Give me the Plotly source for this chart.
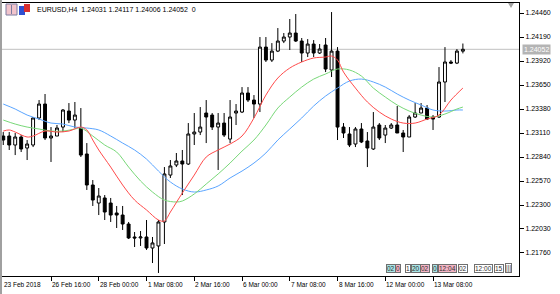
import plotly.graph_objects as go

# ---------------- data ----------------
bars = list(range(78))
opens = [1.23076, 1.23076, 1.22975, 1.23065, 1.22941, 1.22975, 1.23279, 1.23436, 1.23054, 1.23076,
         1.23177, 1.23357, 1.23256, 1.23166, 1.22874, 1.22525, 1.22322, 1.22379, 1.22322, 1.22210,
         1.22187, 1.22086, 1.21940, 1.21929, 1.21940, 1.21816, 1.21839, 1.22109, 1.22637, 1.22750,
         1.22795, 1.22761, 1.23099, 1.23121, 1.23335, 1.23312, 1.23177, 1.23222, 1.23042, 1.23335,
         1.23346, 1.23560, 1.23481, 1.23436, 1.24077, 1.23931, 1.24032, 1.24145, 1.24190, 1.24235,
         1.24145, 1.24010, 1.24111, 1.24010, 1.24100, 1.23819, 1.24032, 1.23177, 1.23099, 1.22986,
         1.23155, 1.23020, 1.22930, 1.23200, 1.23087, 1.23166, 1.23200, 1.23110, 1.23065, 1.23290,
         1.23335, 1.23391, 1.23290, 1.23290, 1.23684, 1.23909, 1.23897, 1.24031]
highs = [1.23121, 1.23121, 1.23110, 1.23087, 1.23031, 1.23290, 1.23481, 1.23549, 1.23177, 1.23200,
         1.23380, 1.23447, 1.23459, 1.23391, 1.22997, 1.22581, 1.22491, 1.22412, 1.22379, 1.22289,
         1.22289, 1.22109, 1.21996, 1.22007, 1.22131, 1.21940, 1.22131, 1.22727, 1.22806, 1.22885,
         1.22919, 1.23222, 1.23335, 1.23402, 1.23481, 1.23335, 1.23335, 1.23335, 1.23481, 1.23436,
         1.23627, 1.23627, 1.23537, 1.24190, 1.24190, 1.24122, 1.24291, 1.24235, 1.24393, 1.24449,
         1.24179, 1.24167, 1.24156, 1.24111, 1.24179, 1.24471, 1.24077, 1.23222, 1.23177, 1.23177,
         1.23222, 1.23121, 1.23346, 1.23222, 1.23200, 1.23222, 1.23414, 1.23144, 1.23312, 1.23447,
         1.23447, 1.23425, 1.23312, 1.23852, 1.24077, 1.23931, 1.24055, 1.24117]
lows = [1.22975, 1.22919, 1.22862, 1.22896, 1.22806, 1.22952, 1.23256, 1.23031, 1.22784, 1.23076,
        1.23121, 1.23222, 1.23166, 1.22840, 1.22469, 1.22289, 1.22187, 1.22131, 1.22109, 1.22041,
        1.22019, 1.21917, 1.21827, 1.21839, 1.21794, 1.21647, 1.21535, 1.21861, 1.22604, 1.22727,
        1.22412, 1.22750, 1.22975, 1.23087, 1.22997, 1.23144, 1.22694, 1.23065, 1.22997, 1.23200,
        1.23335, 1.23459, 1.23279, 1.23346, 1.23909, 1.23909, 1.24021, 1.24122, 1.24044, 1.24134,
        1.23909, 1.23965, 1.23965, 1.23999, 1.23796, 1.23740, 1.23031, 1.23054, 1.22952, 1.22952,
        1.22997, 1.22727, 1.22919, 1.23031, 1.22997, 1.23155, 1.23110, 1.22896, 1.23065, 1.23279,
        1.23335, 1.23256, 1.23144, 1.23279, 1.23459, 1.23886, 1.23886, 1.24006]
closes = [1.23031, 1.22975, 1.23065, 1.22930, 1.22986, 1.23279, 1.23436, 1.23054, 1.23076, 1.23166,
          1.23369, 1.23256, 1.23312, 1.22862, 1.22525, 1.22356, 1.22401, 1.22221, 1.22187, 1.22187,
          1.22086, 1.21929, 1.21929, 1.21940, 1.21816, 1.21873, 1.22109, 1.22649, 1.22739, 1.22795,
          1.22761, 1.23099, 1.23121, 1.23177, 1.23290, 1.23177, 1.23222, 1.23087, 1.23290, 1.23357,
          1.23560, 1.23481, 1.23436, 1.24077, 1.23931, 1.24032, 1.24145, 1.24190, 1.24235, 1.24145,
          1.24010, 1.24111, 1.24010, 1.24055, 1.23830, 1.24032, 1.23177, 1.23110, 1.22975, 1.23155,
          1.23009, 1.22941, 1.23177, 1.23054, 1.23166, 1.23200, 1.23110, 1.23065, 1.23290, 1.23335,
          1.23391, 1.23267, 1.23267, 1.23684, 1.23909, 1.23897, 1.24032, 1.24052]

# moving averages (bar index, price)
ma_red_x = [0, 1, 2, 4, 5, 7, 9, 11, 13, 14, 15, 16, 18, 20, 22, 24, 26, 27, 28, 30, 32, 34, 36, 38,
            40, 42, 44, 46, 48, 50, 52, 54, 55, 56, 57, 59, 61, 63, 65, 67, 69, 71, 73, 75, 77]
ma_red_y = [1.23132, 1.23144, 1.23121, 1.23065, 1.23076, 1.23132, 1.23121, 1.23132, 1.23177, 1.23144,
            1.23031, 1.22919, 1.22727, 1.22525, 1.22356, 1.22244, 1.22131, 1.22120, 1.22221, 1.22435,
            1.22637, 1.22840, 1.22919, 1.22986, 1.23076, 1.23279, 1.23537, 1.23729, 1.23841, 1.23909,
            1.23954, 1.23965, 1.23976, 1.23931, 1.23796, 1.23616, 1.23459, 1.23346, 1.23267, 1.23222,
            1.23222, 1.23267, 1.23312, 1.23481, 1.23616]
ma_green_x = [0, 2, 4, 6, 8, 10, 12, 13, 15, 17, 19, 21, 23, 25, 27, 29, 30, 32, 34, 36, 38, 40, 42,
              44, 46, 48, 50, 52, 54, 56, 58, 60, 62, 64, 66, 68, 70, 72, 74, 76, 77]
ma_green_y = [1.23256, 1.23211, 1.23177, 1.23155, 1.23132, 1.23132, 1.23155, 1.23166, 1.23076, 1.22975,
              1.22896, 1.22727, 1.22570, 1.22446, 1.22356, 1.22334, 1.22345, 1.22424, 1.22536, 1.22649,
              1.22772, 1.22907, 1.23031, 1.23200, 1.23391, 1.23515, 1.23627, 1.23717, 1.23774, 1.23830,
              1.23819, 1.23751, 1.23616, 1.23515, 1.23425, 1.23357, 1.23312, 1.23290, 1.23324, 1.23380,
              1.23402]
ma_blue_x = [0, 2, 4, 6, 8, 10, 12, 14, 16, 18, 20, 22, 24, 26, 28, 30, 32, 34, 36, 38, 40, 42, 44,
             46, 48, 50, 52, 54, 56, 58, 60, 62, 64, 66, 68, 70, 72, 74, 76, 77]
ma_blue_y = [1.23436, 1.23380, 1.23312, 1.23267, 1.23222, 1.23211, 1.23177, 1.23166, 1.23144, 1.23076,
             1.22997, 1.22919, 1.22817, 1.22682, 1.22559, 1.22480, 1.22446, 1.22469, 1.22514, 1.22604,
             1.22682, 1.22772, 1.22885, 1.23031, 1.23155, 1.23279, 1.23414, 1.23526, 1.23616, 1.23695,
             1.23717, 1.23684, 1.23627, 1.23549, 1.23481, 1.23425, 1.23369, 1.23357, 1.23369, 1.23369]

y_ticks = [1.21760, 1.22030, 1.22300, 1.22570, 1.22840, 1.23110, 1.23380, 1.23650, 1.23920, 1.24190, 1.24460]
x_tick_bars = [0, 8, 16, 24, 32, 40, 48, 56, 64, 72]
x_tick_labels = ["23 Feb 2018", "26 Feb 16:00", "28 Feb 00:00", "1 Mar 08:00", "2 Mar 16:00",
                 "6 Mar 00:00", "7 Mar 08:00", "8 Mar 16:00", "12 Mar 00:00", "13 Mar 08:00"]
symbol = "EURUSD,H4"
last_price = closes[-1]
timer_cells = ["02", "0", "1", "20", "02", "0", "12:04", "02", "12:00", "15", "|||"]
timer_colors = ["#a8e4e4", "#f4b4c4", "white", "#a8e4e4", "#f4b4c4", "#a8e4e4", "#f4b4c4",
                "white", "white", "white", "white"]
timer_left_px = [386, 395, 405, 411, 420, 432, 438, 458, 474, 494, 505]

# ---------------- figure ----------------
FONT = "Liberation Sans, Arial, sans-serif"
L, R, T, B = 2, 41, 3, 18
W, H = 560, 294
PW, PH = W - L - R, H - T - B


def px(xp):
    return (xp - L) / PW


def py(yp):
    return (H - B - yp) / PH


fig = go.Figure()

for xs, ys, col in [(ma_blue_x, ma_blue_y, "#5aa5ff"),
                    (ma_green_x, ma_green_y, "#78d878"),
                    (ma_red_x, ma_red_y, "#ff4a4a")]:
    fig.add_trace(go.Scatter(x=xs, y=ys, mode="lines", line=dict(color=col, width=1, shape="spline"),
                             hoverinfo="skip", showlegend=False))

fig.add_trace(go.Candlestick(
    x=bars, open=opens, high=highs, low=lows, close=closes,
    increasing=dict(fillcolor="white", line=dict(color="black", width=1)),
    decreasing=dict(fillcolor="black", line=dict(color="black", width=1)),
    whiskerwidth=0, showlegend=False))

# current price line
fig.add_shape(type="line", xref="paper", x0=0, x1=1, yref="y", y0=last_price, y1=last_price,
              line=dict(color="#c0c0c0", width=1), layer="below")

# window border on the left
fig.add_shape(type="rect", xref="paper", yref="paper", x0=px(0), x1=px(2), y0=py(H), y1=py(0),
              fillcolor="#a0a0a0", line=dict(width=0))

# chart-shift marker
fig.add_shape(type="path", xref="paper", yref="paper",
              path=f"M {px(508)} {py(3)} L {px(514)} {py(3)} L {px(511)} {py(8)} Z",
              fillcolor="#a0a0a0", line=dict(width=0))

# toolbar icons top-left
fig.add_shape(type="rect", xref="paper", yref="paper", x0=px(6), x1=px(17), y0=py(15), y1=py(4),
              fillcolor="#f2c4cc", line=dict(color="#7c7ca0", width=1))
fig.add_shape(type="line", xref="paper", yref="paper", x0=px(11.5), x1=px(11.5), y0=py(14), y1=py(5),
              line=dict(color="#7c7ca0", width=1))
fig.add_shape(type="rect", xref="paper", yref="paper", x0=px(19), x1=px(25), y0=py(15), y1=py(6),
              fillcolor="#3050d0", line=dict(width=0))
fig.add_shape(type="rect", xref="paper", yref="paper", x0=px(24), x1=px(30), y0=py(12), y1=py(4),
              fillcolor="#d83030", line=dict(width=0))

fig.update_layout(
    width=W, height=H,
    margin=dict(l=L, r=R, t=T, b=B),
    paper_bgcolor="white", plot_bgcolor="white",
    showlegend=False,
    font=dict(family=FONT, size=7, color="black"),
    xaxis=dict(range=[-0.21, 86.4], showgrid=False, zeroline=False, rangeslider=dict(visible=False),
               tickmode="array", tickvals=x_tick_bars[1:], ticktext=[""] * 9, ticks="outside",
               ticklen=4, tickcolor="black", showline=True, linecolor="black", mirror=True, linewidth=1),
    yaxis=dict(side="right", range=[1.21501, 1.24573], showgrid=False, zeroline=False,
               tickmode="array", tickvals=y_ticks, ticktext=[f"{v:.5f}" for v in y_ticks],
               ticks="outside", ticklen=4, tickcolor="black", showline=True, linecolor="black",
               mirror=True, linewidth=1, tickfont=dict(size=7, family=FONT)),
)

# time labels (left aligned at the tick like the original)
for b, lab in zip(x_tick_bars, x_tick_labels):
    fig.add_annotation(x=b, y=0, xref="x", yref="paper", text=lab, showarrow=False,
                       xanchor="left", yanchor="top", yshift=-3, xshift=-1,
                       font=dict(size=6.5, family=FONT, color="black"))

# price label
fig.add_annotation(x=1, y=last_price, xref="paper", yref="y", text=f"{last_price:.5f}",
                   showarrow=False, xanchor="left", yanchor="middle", xshift=3,
                   bgcolor="#b4b4b4", font=dict(size=7, family=FONT, color="white"), borderpad=1)

# header
fig.add_annotation(x=px(35), y=py(9), xref="paper", yref="paper",
                   text=f"{symbol}  {opens[-1]:.5f} {highs[-1]:.5f} {lows[-1]:.5f} {closes[-1]:.5f}  0",
                   showarrow=False, xanchor="left", yanchor="middle",
                   font=dict(size=7, family=FONT, color="black"))

# bar timer boxes (bottom right)
for xl, txt, bg in zip(timer_left_px, timer_cells, timer_colors):
    fig.add_annotation(x=px(xl), y=py(268), xref="paper", yref="paper", text=txt, showarrow=False,
                       xanchor="left", yanchor="middle", bgcolor=bg, bordercolor="#707070",
                       borderwidth=1, borderpad=0, font=dict(size=6.5, family=FONT, color="#303030"))

fig.write_html("out.html")
